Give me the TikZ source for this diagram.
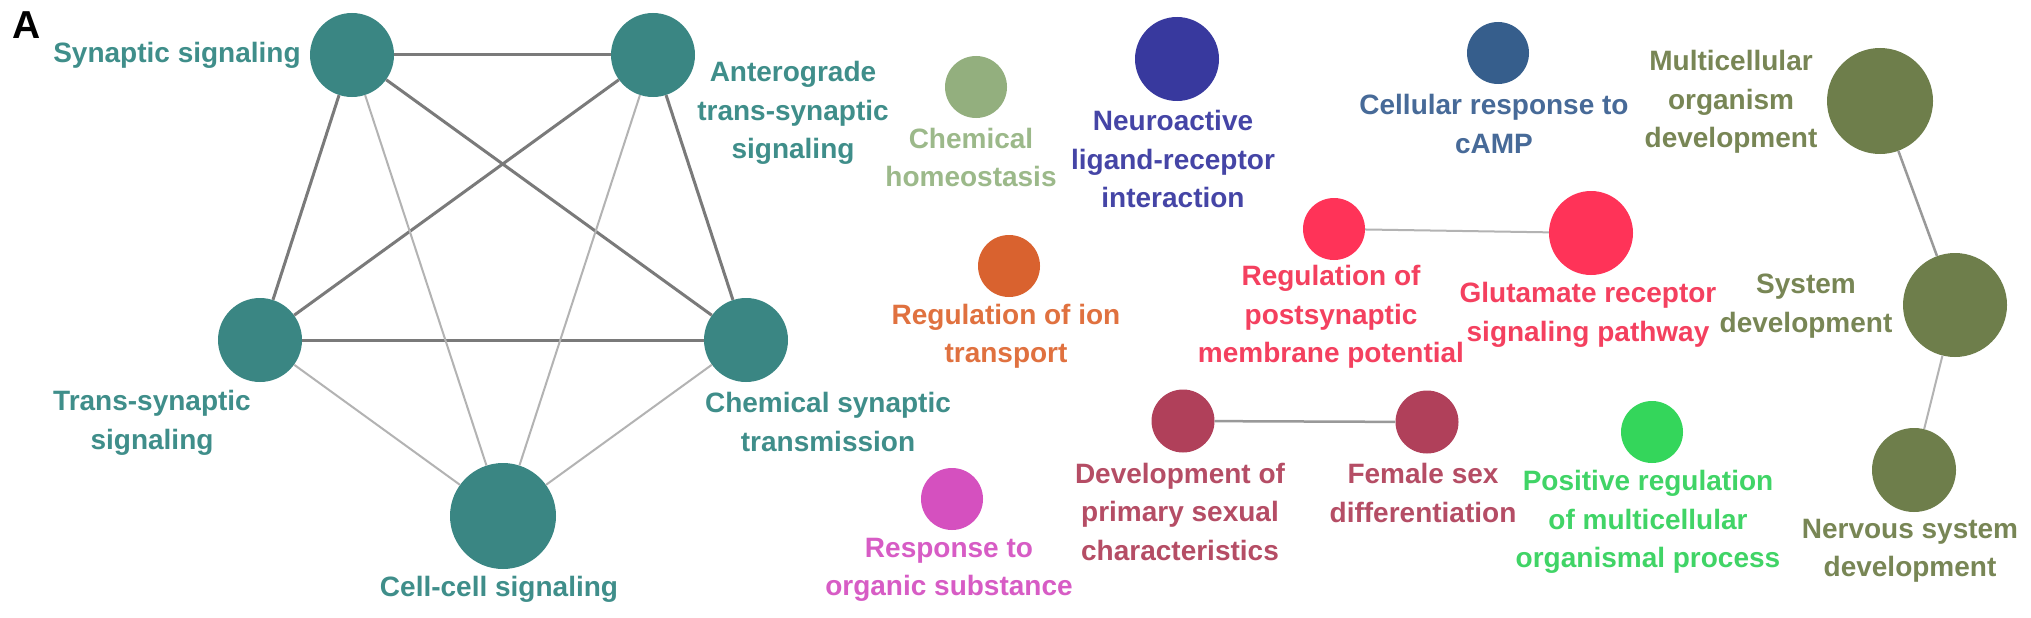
\documentclass[tikz,border=0pt]{standalone}
\usepackage{fontspec}
\setmainfont{Liberation Sans}
\definecolor{tealN}{HTML}{3A8683}\definecolor{tealT}{HTML}{3F8E8A}
\definecolor{homeoN}{HTML}{93AF7E}\definecolor{homeoT}{HTML}{9CB98A}
\definecolor{neuroN}{HTML}{38399E}\definecolor{neuroT}{HTML}{4545A6}
\definecolor{campN}{HTML}{365E8C}\definecolor{campT}{HTML}{476A98}
\definecolor{oliveN}{HTML}{6E7E4B}\definecolor{oliveT}{HTML}{788655}
\definecolor{orangeN}{HTML}{D9622F}\definecolor{orangeT}{HTML}{E0713F}
\definecolor{redN}{HTML}{FF3358}\definecolor{redT}{HTML}{F4405F}
\definecolor{maroonN}{HTML}{B0405A}\definecolor{maroonT}{HTML}{B54D65}
\definecolor{greenN}{HTML}{34D65B}\definecolor{greenT}{HTML}{40D466}
\definecolor{magN}{HTML}{D550BF}\definecolor{magT}{HTML}{D75CC5}
\definecolor{edgeDark}{HTML}{7A7A7A}
\definecolor{edgeMid}{HTML}{999999}
\definecolor{edgeLight}{HTML}{B3B3B3}
\begin{document}
\begin{tikzpicture}[x=1pt,y=-1pt,
  nd/.style={circle,inner sep=0pt,minimum size=#1},
  lb/.style={align=center,font=\fontsize{28}{38.5}\selectfont\bfseries,inner sep=0pt},
  thk/.style={draw=edgeDark,line width=3pt},
  mid/.style={draw=edgeMid,line width=2.5pt},
  thn/.style={draw=edgeLight,line width=2pt}]
\useasboundingbox[fill=white] (0,0) rectangle (2031,618);
% nodes
\node[nd=84pt,fill=tealN] (syn) at (352,55) {};
\node[nd=84pt,fill=tealN] (ant) at (653,55) {};
\node[nd=84pt,fill=tealN] (trans) at (260,340) {};
\node[nd=84pt,fill=tealN] (chem) at (746,340) {};
\node[nd=106pt,fill=tealN] (cell) at (503,516) {};
\node[nd=62pt,fill=homeoN] (homeo) at (976,87) {};
\node[nd=84pt,fill=neuroN] (neuro) at (1177,59) {};
\node[nd=62pt,fill=campN] (camp) at (1498,53) {};
\node[nd=106pt,fill=oliveN] (multi) at (1880,101) {};
\node[nd=62pt,fill=orangeN] (ion) at (1009,266) {};
\node[nd=62pt,fill=redN] (post) at (1334,229) {};
\node[nd=84pt,fill=redN] (glu) at (1591,233) {};
\node[nd=104pt,fill=oliveN] (sys) at (1955,305) {};
\node[nd=63pt,fill=maroonN] (devp) at (1183,421) {};
\node[nd=63pt,fill=maroonN] (fem) at (1427,422) {};
\node[nd=62pt,fill=greenN] (pos) at (1652,432) {};
\node[nd=84pt,fill=oliveN] (nerv) at (1914,470) {};
\node[nd=62pt,fill=magN] (resp) at (952,499) {};
% edges
\draw[thk] (syn) -- (ant);
\draw[thk] (syn) -- (trans);
\draw[thk] (syn) -- (chem);
\draw[thk] (ant) -- (trans);
\draw[thk] (ant) -- (chem);
\draw[thk] (trans) -- (chem);
\draw[thn] (syn) -- (cell);
\draw[thn] (ant) -- (cell);
\draw[thn] (trans) -- (cell);
\draw[thn] (chem) -- (cell);
\draw[thn] (post) -- (glu);
\draw[mid] (devp) -- (fem);
\draw[mid] (multi) -- (sys);
\draw[thn] (sys) -- (nerv);
% labels
\node[inner sep=0pt,font=\fontsize{39}{42}\selectfont\bfseries] (lA) at (27,25.5) {A};
\node[lb,text=tealT] (lsyn) at (177,55) {Synaptic signaling};
\node[lb,text=tealT] (ltrans) at (152,423) {Trans-synaptic\\signaling};
\node[lb,text=tealT] (lcell) at (499,589) {Cell-cell signaling};
\node[lb,text=tealT] (lant) at (793,113) {Anterograde\\trans-synaptic\\signaling};
\node[lb,text=tealT] (lchem) at (828,422) {Chemical synaptic\\transmission};
\node[lb,text=homeoT] (lhomeo) at (971,157.5) {Chemical\\homeostasis};
\node[lb,text=neuroT] (lneuro) at (1173,159) {Neuroactive\\ligand-receptor\\interaction};
\node[lb,text=orangeT] (lion) at (1006,336.5) {Regulation of ion\\transport};
\node[lb,text=magT] (lresp) at (949,570) {Response to\\organic substance};
\node[lb,text=maroonT] (ldevp) at (1180,511.5) {Development of\\primary sexual\\characteristics};
\node[lb,text=campT] (lcamp) at (1494,124) {Cellular response to\\cAMP};
\node[lb,text=oliveT] (lmulti) at (1731,102) {Multicellular\\organism\\development};
\node[lb,text=redT] (lglu) at (1588,315) {Glutamate receptor\\signaling pathway};
\node[lb,text=oliveT] (lsys) at (1806,306) {System\\development};
\node[lb,text=redT] (lpost) at (1331,317) {Regulation of\\postsynaptic\\membrane potential};
\node[lb,text=maroonT] (lfem) at (1423,493) {Female sex\\differentiation};
\node[lb,text=greenT] (lpos) at (1648,522) {Positive regulation\\of multicellular\\organismal process};
\node[lb,text=oliveT] (lnerv) at (1910,551) {Nervous system\\development};
\end{tikzpicture}
\end{document}
